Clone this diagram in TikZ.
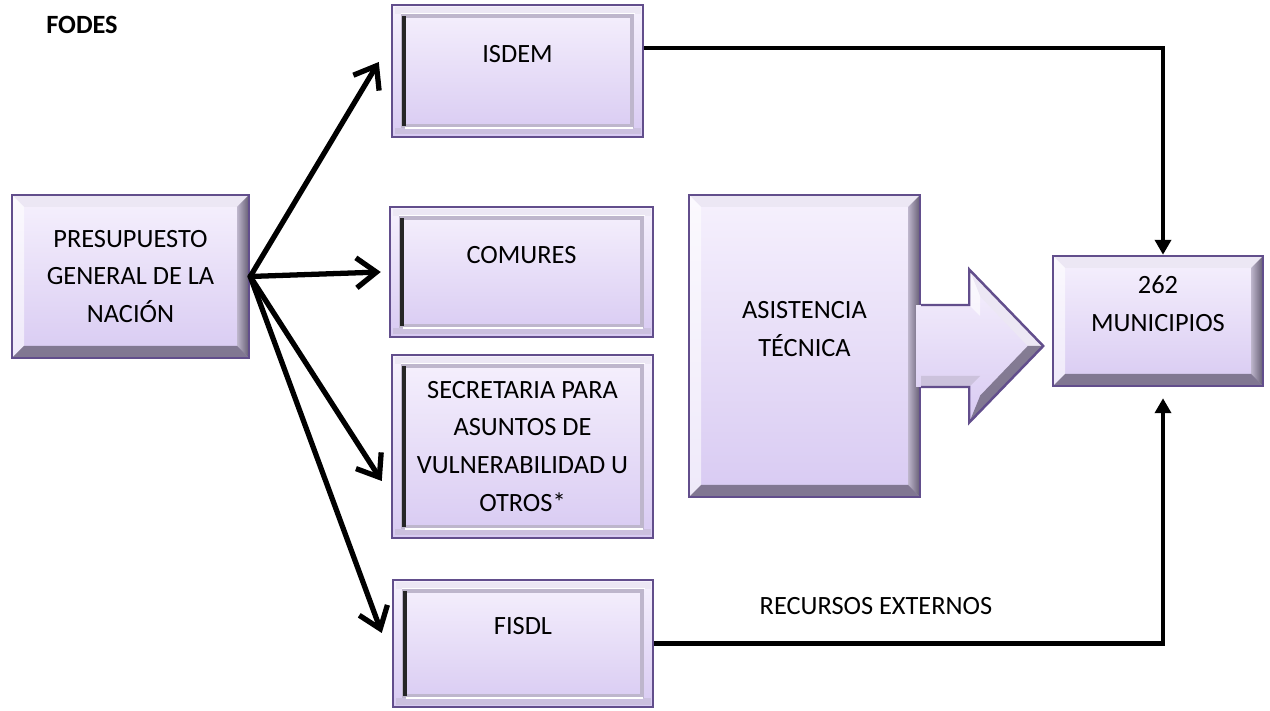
\documentclass[tikz,border=0pt]{standalone}
\usepackage{fontspec}
\setmainfont{Carlito}
\usetikzlibrary{calc,arrows.meta}

\definecolor{boxtop}{RGB}{246,241,253}
\definecolor{boxbot}{RGB}{216,202,242}
\definecolor{boxline}{RGB}{98,78,140}
\definecolor{bevlight}{RGB}{236,231,244}
\definecolor{bevmid}{RGB}{190,182,204}
\definecolor{bevdark}{RGB}{100,92,114}

\begin{document}
\begin{tikzpicture}[
    font=\fontsize{15}{21.6}\selectfont,
    box/.style={draw=boxline, line width=1.4pt, top color=boxtop, bottom color=boxbot,
        align=center, inner sep=0pt},
    bevel/.style={box, path picture={
        \path (path picture bounding box.south west) coordinate (bsw)
              (path picture bounding box.north east) coordinate (bne);
        \fill[bevlight] (bsw|-bne) -- (bne) -- ($(bne)+(-0.24,-0.24)$) -- ($(bsw|-bne)+(0.24,-0.24)$) -- cycle;
        \fill[white, opacity=0.6] (bsw) -- (bsw|-bne) -- ($(bsw|-bne)+(0.24,-0.24)$) -- ($(bsw)+(0.24,0.24)$) -- cycle;
        \shade[left color=bevmid, right color=bevdark] (bne) -- (bne|-bsw) -- ($(bne|-bsw)+(-0.24,0.24)$) -- ($(bne)+(-0.24,-0.24)$) -- cycle;
        \fill[bevdark, opacity=0.75] (bsw) -- (bne|-bsw) -- ($(bne|-bsw)+(-0.24,0.24)$) -- ($(bsw)+(0.24,0.24)$) -- cycle;
    }},
    frame/.style={box, path picture={
        \path (path picture bounding box.south west) coordinate (fsw)
              (path picture bounding box.north east) coordinate (fne);
        \fill[bevlight] ($(fsw|-fne)+(0.05,-0.05)$) rectangle ($(fne)+(-0.05,-0.18)$);
        \fill[bevmid, opacity=0.5] ($(fsw)+(0.05,0.05)$) rectangle ($(fne|-fsw)+(-0.05,0.18)$);
        \draw[line width=1.8pt, bevmid] ($(fsw)+(0.22,0.22)$) rectangle ($(fne)+(-0.22,-0.22)$);
        \draw[line width=0.8pt, white] ($(fsw)+(0.26,0.18)$) -- ($(fne|-fsw)+(-0.2,0.18)$);
        \draw[line width=0.8pt, white] ($(fsw|-fne)+(0.17,-0.17)$) -- ($(fne)+(-0.17,-0.17)$);
        \draw[line width=2.4pt, black!85] ($(fsw)+(0.24,0.22)$) -- ($(fsw|-fne)+(0.24,-0.22)$);
    }},
    lift/.style={text depth=0.7cm},
    flow/.style={line width=3pt, line cap=round, line join=round,
        -{Straight Barb[length=4mm,width=6mm]}},
    link/.style={line width=2.8pt, -{Triangle[length=3mm,width=3.2mm]}},
]
    \useasboundingbox (0,0) rectangle (25.4,14.2);

    \node[font=\fontsize{15}{18}\selectfont\bfseries] (fodes) at (1.64,13.7) {FODES};

    % source
    \node[bevel, minimum width=4.74cm, minimum height=3.26cm] (pres) at (2.61,8.67)
        {PRESUPUESTO\\GENERAL DE LA\\NACIÓN};

    % institutions
    \node[frame, lift, minimum width=5.02cm, minimum height=2.64cm] (isdem) at (10.35,12.78) {ISDEM};
    \node[frame, lift, minimum width=5.26cm, minimum height=2.6cm] (comures) at (10.43,8.76) {COMURES};
    \node[frame, minimum width=5.22cm, minimum height=3.66cm] (secr) at (10.45,5.27)
        {SECRETARIA PARA\\ASUNTOS DE\\VULNERABILIDAD U\\OTROS*};
    \node[frame, lift, minimum width=5.2cm, minimum height=2.54cm] (fisdl) at (10.46,1.33) {FISDL};

    % technical assistance
    \node[bevel, lift, minimum width=4.62cm, minimum height=6.04cm] (asist) at (16.09,7.28)
        {ASISTENCIA\\TÉCNICA};

    % target
    \node[bevel, lift, minimum width=4.2cm, minimum height=2.6cm] (muni) at (23.16,7.78)
        {262\\MUNICIPIOS};

    % block arrow
    \begin{scope}[shift={(asist.east)}]
        \fill[top color=boxtop, bottom color=boxbot] (-0.1,0.82) -- (0.96,0.82) -- (0.96,1.53) -- (2.44,0)
            -- (0.96,-1.53) -- (0.96,-0.82) -- (-0.1,-0.82) -- cycle;
        \fill[bevlight] (0.96,1.53) -- (2.44,0) -- (2.13,0) -- (1.18,0.99) -- cycle;
        \fill[bevdark, opacity=0.75] (2.44,0) -- (0.96,-1.53) -- (1.18,-0.99) -- (2.13,0) -- cycle;
        \fill[white, opacity=0.6] (0.96,1.53) -- (1.18,0.99) -- (1.18,0.6) -- (0.96,0.82) -- cycle;
        \fill[bevmid, opacity=0.6] (0,-0.82) -- (0.96,-0.82) -- (1.18,-0.6) -- (0,-0.6) -- cycle;
        \draw[boxline, line width=1.4pt, line join=miter] (0,0.82) -- (0.96,0.82) -- (0.96,1.53) -- (2.44,0)
            -- (0.96,-1.53) -- (0.96,-0.82) -- (0,-0.82);
    \end{scope}

    % distribution
    \draw[flow] (pres.east) -- ([xshift=-0.24cm,yshift=0.18cm]isdem.west);
    \draw[flow] (pres.east) -- ([xshift=-0.16cm]comures.west);
    \draw[flow] (pres.east) -- ([xshift=-0.18cm,yshift=-0.69cm]secr.west);
    \draw[flow] (pres.east) -- ([xshift=-0.2cm,yshift=0.21cm]fisdl.west);

    % transfers
    \draw[link] ([yshift=0.46cm]isdem.east) -| ([xshift=0.1cm]muni.north);
    \draw[link, shorten >=0.22cm] (fisdl.east) -| ([xshift=0.1cm]muni.south);
    \node (recursos) at (17.52,2.08) {RECURSOS EXTERNOS};
\end{tikzpicture}
\end{document}
